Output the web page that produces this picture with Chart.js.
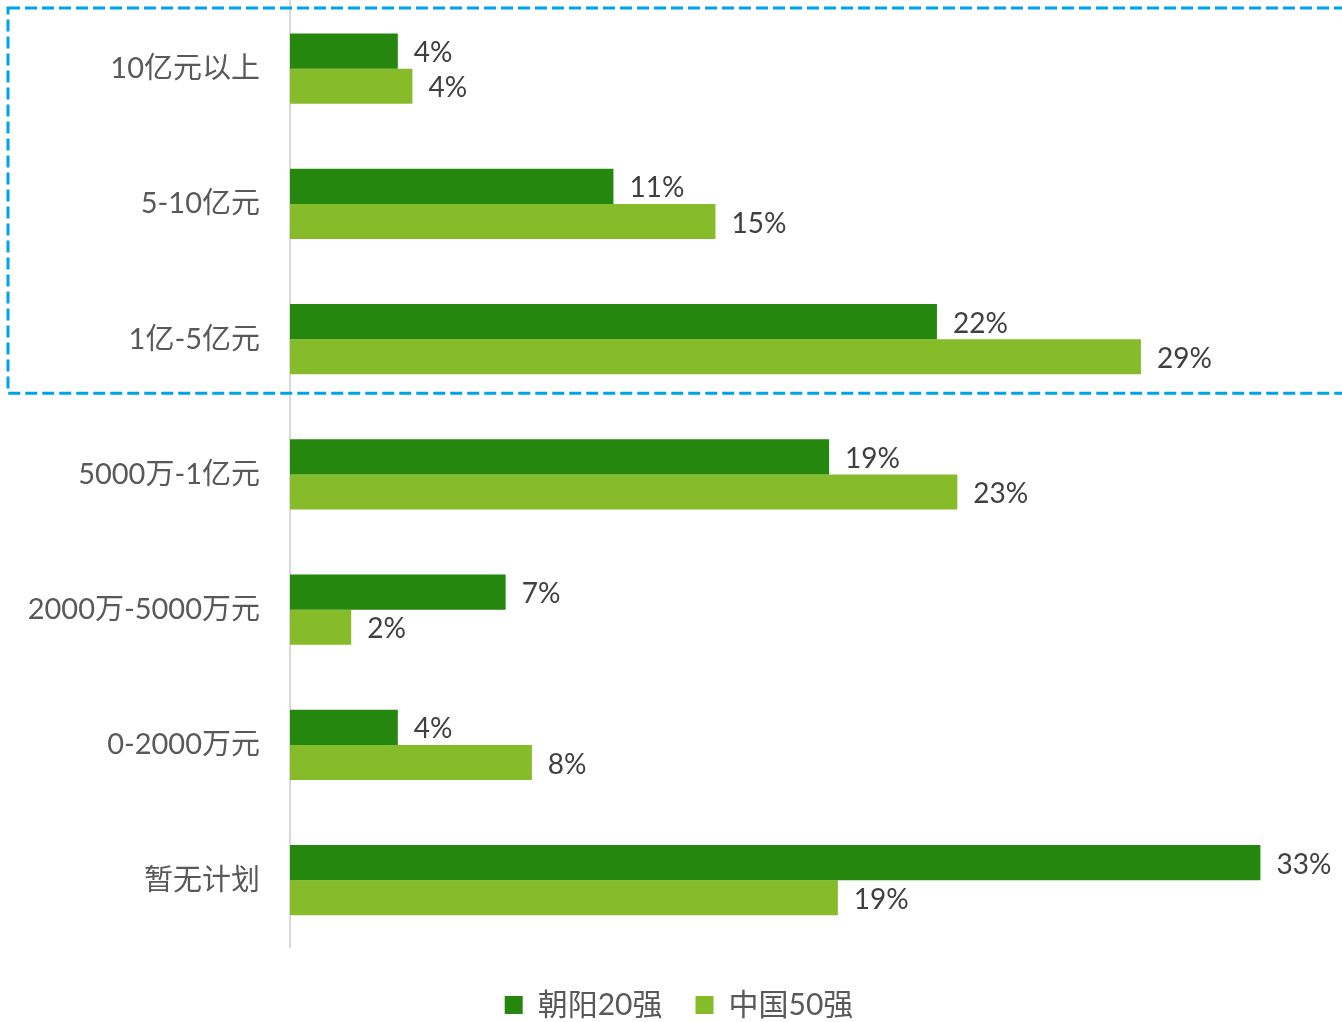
<!DOCTYPE html>
<html>
<head>
<meta charset="utf-8">
<script src="https://cdn.jsdelivr.net/npm/chart.js@4"></script>
<style>
  html, body { margin: 0; padding: 0; background: #fff; }
  #wrap { width: 1342px; height: 1022px; position: relative; }
</style>
</head>
<body>
<div id="wrap"><canvas id="bar-chart"></canvas></div>
<script>
const categories = ['10亿元以上', '5-10亿元', '1亿-5亿元', '5000万-1亿元', '2000万-5000万元', '0-2000万元', '暂无计划'];
const chaoyang20 = [3.7, 11.1, 22.2, 18.5, 7.4, 3.7, 33.3];
const china50 = [4.2, 14.6, 29.2, 22.9, 2.1, 8.3, 18.8];
const seriesNames = ['朝阳20强', '中国50强'];

const FONT = '"Lato", "Noto Sans CJK SC", sans-serif';

// percent labels at the end of each bar
const barLabels = {
  id: 'barLabels',
  afterDatasetsDraw(chart) {
    const ctx = chart.ctx;
    ctx.save();
    ctx.font = '28px ' + FONT;
    ctx.fillStyle = '#404040';
    ctx.textAlign = 'left';
    ctx.textBaseline = 'middle';
    chart.data.datasets.forEach((ds, i) => {
      chart.getDatasetMeta(i).data.forEach((bar, j) => {
        ctx.fillText(Math.round(ds.data[j]) + '%', bar.x + 16, bar.y + 2);
      });
    });
    ctx.restore();
  }
};

// dashed box round the top three groups
const dashedBox = {
  id: 'dashedBox',
  afterDraw(chart) {
    const ctx = chart.ctx;
    const y = chart.scales.y;
    ctx.save();
    ctx.strokeStyle = '#00A2E8';
    ctx.lineWidth = 3;
    ctx.setLineDash([12, 5]);
    ctx.strokeRect(8, 8, chart.width + 10, y.getPixelForValue(2.4) - 8);
    ctx.restore();
  }
};

new Chart(document.getElementById('bar-chart'), {
  type: 'bar',
  data: {
    labels: categories,
    datasets: [
      {
        label: seriesNames[0],
        data: chaoyang20,
        backgroundColor: '#26870E',
        borderWidth: 0,
      },
      {
        label: seriesNames[1],
        data: china50,
        backgroundColor: '#86BB29',
        borderWidth: 0,
      },
    ],
  },
  options: {
    indexAxis: 'y',
    responsive: true,
    maintainAspectRatio: false,
    animation: false,
    categoryPercentage: 0.52,
    barPercentage: 1,
    layout: {
      padding: { left: 16, right: 0, top: 1, bottom: -8 },
    },
    scales: {
      x: {
        display: false,
        min: 0,
        max: 36.1,
      },
      y: {
        grid: { display: false, drawTicks: false },
        border: { display: true, color: '#D9D9D9', width: 2 },
        ticks: {
          color: '#595959',
          padding: 30,
          font: { size: 29, family: FONT },
        },
        afterFit(scale) {
          scale.width = 274;
          scale.paddingTop = 0;
          scale.paddingBottom = 0;
        },
      },
    },
    plugins: {
      legend: {
        position: 'bottom',
        title: {
          display: true,
          text: '',
          font: { size: 1 },
          padding: { top: 8, bottom: 0 },
        },
        labels: {
          color: '#595959',
          boxWidth: 18,
          boxHeight: 18,
          padding: 33,
          font: { size: 30, family: FONT },
        },
      },
      tooltip: { enabled: false },
    },
  },
  plugins: [barLabels, dashedBox],
});
</script>
</body>
</html>
